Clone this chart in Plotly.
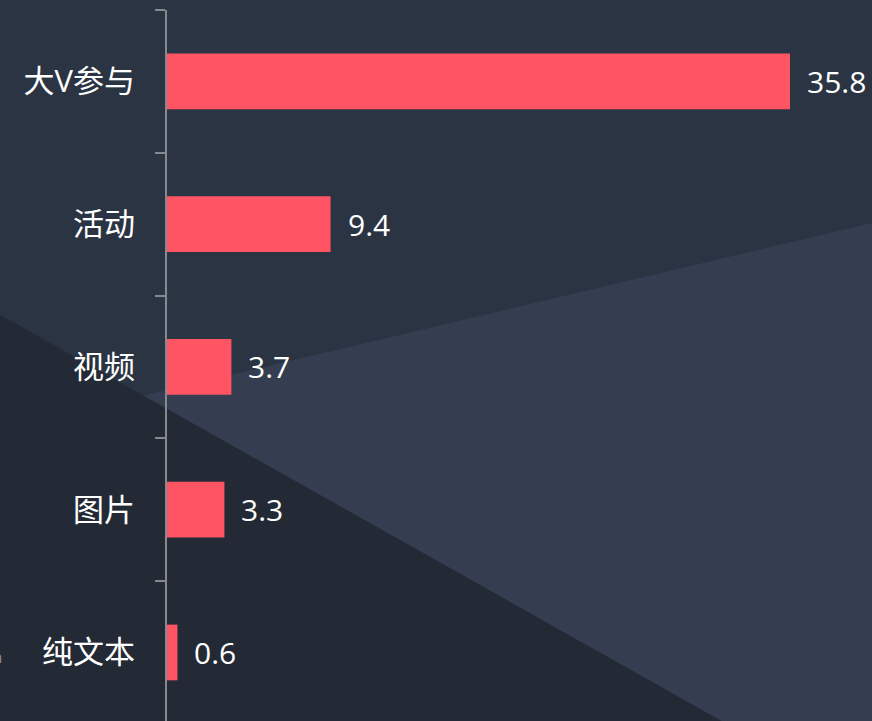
import plotly.graph_objects as go

categories = ["大V参与", "活动", "视频", "图片", "纯文本"]
values = [35.8, 9.4, 3.7, 3.3, 0.6]

W, H = 872, 721
L, T = 167, 10
PW, PH = W - L, H - T

def px(x, y):
    return (x - L) / PW, (H - y) / PH

def path(points):
    pts = [px(x, y) for x, y in points]
    return "M " + " L ".join(f"{a:.5f},{b:.5f}" for a, b in pts) + " Z"

FONT = "Open Sans, Noto Sans CJK SC, sans-serif"

fig = go.Figure()
fig.add_trace(go.Bar(
    y=categories, x=values, orientation="h",
    marker=dict(color="#ff5463", line=dict(width=0)),
    width=0.39, hoverinfo="skip",
))

for c, v in zip(categories, values):
    fig.add_annotation(x=v, y=c, text=f"{v}", showarrow=False,
                       xanchor="left", yanchor="middle", xshift=15,
                       font=dict(size=30, color="#ffffff", family=FONT))

fig.add_annotation(xref="paper", yref="paper", x=px(4, 0)[0], y=px(0, 656)[1],
                   text="n", showarrow=False, xanchor="right", yanchor="middle",
                   font=dict(size=17, color="#8a8d92", family=FONT))

shapes = [
    dict(type="path", xref="paper", yref="paper", layer="below",
         path=path([(-5, 431), (880, 221), (880, 730), (-5, 730)]),
         fillcolor="#343e50", line=dict(width=0)),
    dict(type="path", xref="paper", yref="paper", layer="below",
         path=path([(-5, 312), (727, 724), (-5, 724)]),
         fillcolor="#232a35", line=dict(width=0)),
]

fig.update_layout(
    width=W, height=H,
    margin=dict(l=L, r=0, t=T, b=0, pad=0),
    paper_bgcolor="#2b3443",
    plot_bgcolor="rgba(0,0,0,0)",
    showlegend=False,
    shapes=shapes,
    font=dict(family=FONT, color="#ffffff"),
    xaxis=dict(range=[0, PW / (623 / 35.8)], visible=False, showgrid=False,
               zeroline=False, fixedrange=True),
    yaxis=dict(type="category", range=[4.48, -0.5], showgrid=False, zeroline=False,
               showline=True, linecolor="#86898e", linewidth=1.5,
               ticks="outside", ticklen=10, tickcolor="#86898e", tickwidth=1.5,
               tickson="boundaries", ticklabelstandoff=24,
               tickfont=dict(size=31, color="#ffffff", family=FONT)),
)

fig.write_html("out.html", config={"displayModeBar": False},
               post_script="document.body.style.margin='0';document.body.style.overflow='hidden';")
